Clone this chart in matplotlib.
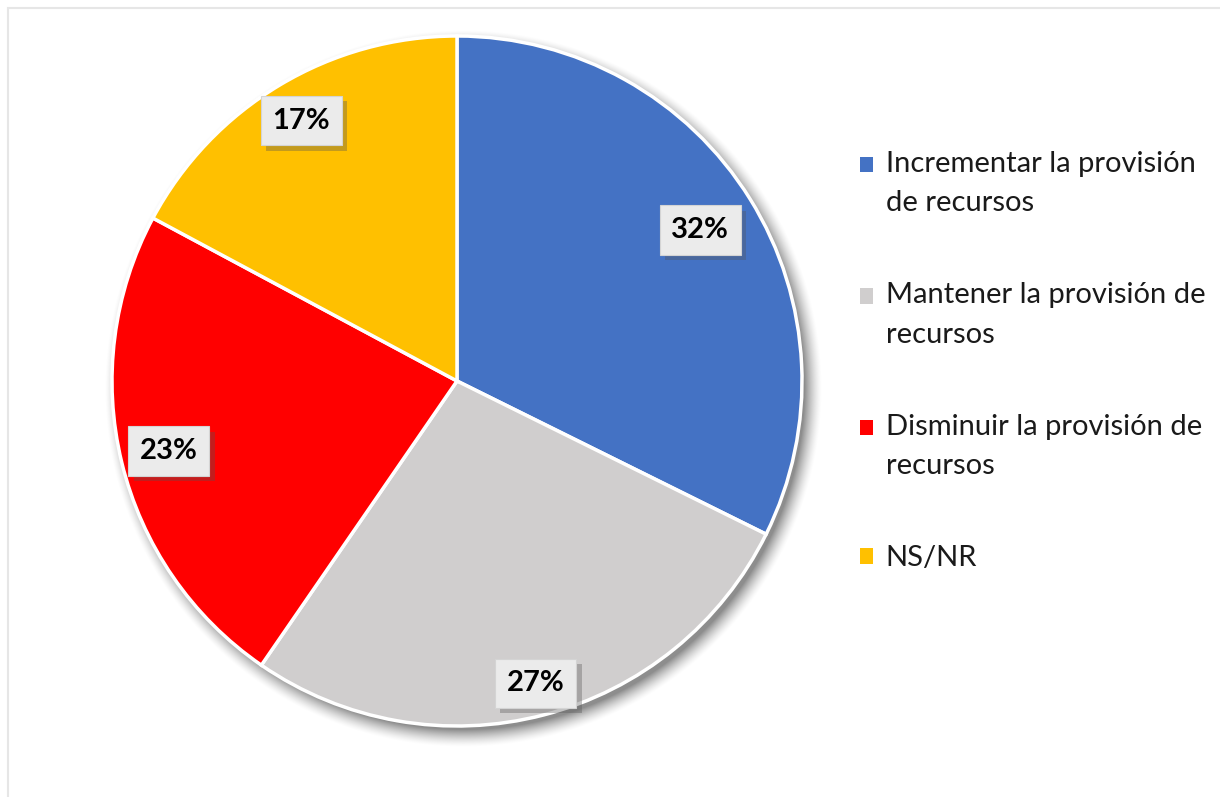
import numpy as np
import matplotlib
matplotlib.use("Agg")
import matplotlib.pyplot as plt
from matplotlib.patches import Patch, Rectangle
from matplotlib.legend_handler import HandlerPatch
from matplotlib import patheffects as pe

labels = ["Incrementar la provisión\nde recursos",
          "Mantener la provisión de\nrecursos",
          "Disminuir la provisión de\nrecursos",
          "NS/NR"]
values = [32, 27, 23, 17]
colors = ["#4472C4", "#D0CECE", "#FF0000", "#FFC000"]
label_r = [0.83, 0.905, 0.86, 0.88]

plt.rcParams["font.family"] = ["Lato", "DejaVu Sans"]


class FirstLinePatch(HandlerPatch):
    # square marker aligned with the first text line of the entry
    def __init__(self, shift):
        super().__init__()
        self.shift = shift

    def create_artists(self, legend, orig_handle, xdescent, ydescent,
                       width, height, fontsize, trans):
        p = Rectangle((-xdescent, -ydescent + self.shift), width, height)
        self.update_prop(p, orig_handle, legend)
        p.set_transform(trans)
        return [p]


fig = plt.figure(figsize=(12.2, 7.97), dpi=100)
ax = fig.add_axes([0, 0, 1, 1])

# thin frame of the chart area
fig.patches.append(Rectangle((8 / 1220, -0.01), 1.1, 1 - 8 / 797 + 0.01,
                             transform=fig.transFigure, fill=False,
                             edgecolor="#e6e6e6", linewidth=1.5))

cx, cy, R = 457, 416, 345

# soft shadow behind the pie
yy, xx = np.mgrid[0:797, 0:1220]
d = np.hypot(xx - (cx + 6), (797 - yy) - (cy - 7))
shade = np.clip((R + 14 - d) / 18, 0, 1) ** 1.5 * 0.45
img = np.zeros((797, 1220, 4))
img[..., 3] = shade
ax.imshow(img, extent=(0, 1220, 0, 797), origin="upper", zorder=0)

wedges, _ = ax.pie(values, colors=colors, startangle=90, counterclock=False,
                   center=(cx, cy), radius=R, frame=True,
                   wedgeprops=dict(edgecolor="white", linewidth=2.5))
ax.set_xlim(0, 1220)
ax.set_ylim(0, 797)
ax.set_aspect("equal")
ax.axis("off")

for w, v, rf in zip(wedges, values, label_r):
    ang = np.deg2rad((w.theta1 + w.theta2) / 2)
    x = cx + R * rf * np.cos(ang)
    y = cy + R * rf * np.sin(ang)
    t = ax.text(x, y, f"{v}%", ha="center", va="center", fontsize=21,
                fontweight="bold", color="black", zorder=5,
                bbox=dict(boxstyle="square,pad=0.4", facecolor="#ebebeb",
                          edgecolor="#d4d4d4", linewidth=0.8))
    t.get_bbox_patch().set_path_effects(
        [pe.SimplePatchShadow(offset=(4, -4), shadow_rgbFace="#555555", alpha=0.35),
         pe.Normal()])

handles = [Patch(facecolor=c, edgecolor="none") for c in colors]
line_pt = 38 * 72 / 100
hmap = {h: FirstLinePatch((lab.count("\n")) * line_pt / 2)
        for h, lab in zip(handles, labels)}
leg = ax.legend(handles, labels, loc="upper left",
                bbox_to_anchor=(845 / 1220, 1 - 136 / 797),
                bbox_transform=fig.transFigure, frameon=False,
                fontsize=21, handlelength=0.45, handleheight=0.45,
                handletextpad=0.45, labelspacing=2.26, borderpad=0,
                handler_map=hmap)
for t in leg.get_texts():
    t.set_linespacing(1.65)
    t.set_color("#1a1a1a")

fig.savefig("out.png", dpi=100, facecolor="white")
